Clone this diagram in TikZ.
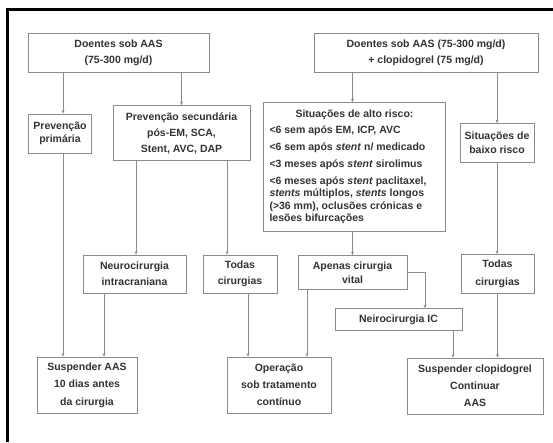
\documentclass[tikz,border=0pt]{standalone}
\usepackage{fontspec}
\setmainfont{Liberation Sans}
\usetikzlibrary{arrows.meta}
\definecolor{txt}{HTML}{333333}
\definecolor{edge}{HTML}{8A8A8A}
\begin{document}
\begin{tikzpicture}[x=1pt,y=-1pt,
  box/.style={draw=edge, line width=0.8pt, text=txt,
    font=\bfseries\fontsize{10.5}{16}\selectfont, align=center, inner sep=0pt},
  arr/.style={draw=edge, line width=0.8pt, -{Stealth[length=3.5pt,width=3pt]}}]
\useasboundingbox[fill=white] (0,0) rectangle (553,442);
% frame
\draw[line width=2.5pt] (6,9.5) -- (553,9.5);
\draw[line width=3pt] (7.5,8.5) -- (7.5,442);
% nodes
\node[box, minimum width=181pt, minimum height=39pt] (A) at (118.5,52.5)
  {Doentes sob AAS\\(75-300 mg/d)};
\node[box, minimum width=224pt, minimum height=39pt] (B) at (426,52.5)
  {Doentes sob AAS (75-300 mg/d)\\+ clopidogrel (75 mg/d)};
\node[box, minimum width=63pt, minimum height=39pt,
  font=\bfseries\fontsize{10.5}{13}\selectfont] (prim) at (60,133.5)
  {Prevenção\\primária};
\node[box, minimum width=137pt, minimum height=55pt] (sec) at (181.5,133)
  {Prevenção secundária\\pós-EM, SCA,\\Stent, AVC, DAP};
\node[box, minimum width=182pt, minimum height=129pt,
  font=\bfseries\fontsize{10.5}{12.5}\selectfont, align=left] (alto) at (354.5,167)
  {\makebox[170pt][c]{Situações de alto risco:}\\[3.5pt]
   <6 sem após EM, ICP, AVC\\[4.5pt]
   <6 sem após \textit{stent} n/ medicado\\[4.5pt]
   <3 meses após \textit{stent} sirolimus\\[4.5pt]
   <6 meses após \textit{stent} paclitaxel,\\
   \textit{stents} múltiplos, \textit{stents} longos\\
   (>36 mm), oclusões crónicas e\\
   lesões bifurcações};
\node[box, minimum width=74pt, minimum height=39pt,
  font=\bfseries\fontsize{10.5}{14}\selectfont] (baixo) at (497,143)
  {Situações de\\baixo risco};
\node[box, minimum width=103pt, minimum height=38pt] (neuro) at (134.5,274)
  {Neurocirurgia\\intracraniana};
\node[box, minimum width=74pt, minimum height=38pt] (todasL) at (240,274)
  {Todas\\cirurgias};
\node[box, minimum width=109pt, minimum height=34pt,
  font=\bfseries\fontsize{10.5}{14}\selectfont] (apenas) at (352.5,272.5)
  {Apenas cirurgia\\vital};
\node[box, minimum width=73pt, minimum height=39pt,
  font=\bfseries\fontsize{10.5}{18}\selectfont] (todasR) at (497.5,274)
  {Todas\\cirurgias};
\node[box, minimum width=127pt, minimum height=22pt] (neiro) at (398.5,319.5)
  {Neirocirurgia IC};
\node[box, minimum width=100pt, minimum height=56pt,
  font=\bfseries\fontsize{10.5}{17.5}\selectfont] (susp) at (87,385)
  {Suspender AAS\\10 dias antes\\da cirurgia};
\node[box, minimum width=104pt, minimum height=56pt,
  font=\bfseries\fontsize{10.5}{17}\selectfont] (oper) at (279,385)
  {Operação\\sob tratamento\\contínuo};
\node[box, minimum width=136pt, minimum height=56pt,
  font=\bfseries\fontsize{10.5}{17}\selectfont] (suspC) at (475,386)
  {Suspender clopidogrel\\Continuar\\AAS};
% connectors
\draw[arr] ([xshift=-55.5pt]A.south) -- ([xshift=3pt]prim.north);
\draw[arr] (sec.north |- A.south) -- (sec.north);
\draw[arr] ([xshift=3pt]prim.south) -- ([xshift=3pt]prim.south |- susp.north);
\draw[arr] ([xshift=-45.5pt]sec.south) -- ([xshift=-45.5pt]sec.south |- neuro.north);
\draw[arr] ([xshift=45.5pt]sec.south) -- ([xshift=45.5pt]sec.south |- todasL.north);
\draw[arr] ([xshift=-30.5pt]neuro.south) -- ([xshift=-30.5pt]neuro.south |- susp.north);
\draw[arr] ([xshift=8pt]todasL.south) -- ([xshift=8pt]todasL.south |- oper.north);
\draw[arr] (apenas.north |- B.south) -- (apenas.north |- alto.north);
\draw[arr] (baixo.north |- B.south) -- (baixo.north);
\draw[arr] (apenas.north |- alto.south) -- (apenas.north);
\draw[arr] (baixo.south) -- (baixo.south |- todasR.north);
\draw[arr] ([xshift=-45.5pt]apenas.south) -- ([xshift=-45.5pt]apenas.south |- oper.north);
\draw[arr] (apenas.east) -| ([xshift=26.5pt]neiro.north);
\draw[arr] ([xshift=54.5pt]neiro.south) -- ([xshift=54.5pt]neiro.south |- suspC.north);
\draw[arr] (todasR.south) -- (todasR.south |- suspC.north);
\end{tikzpicture}
\end{document}
